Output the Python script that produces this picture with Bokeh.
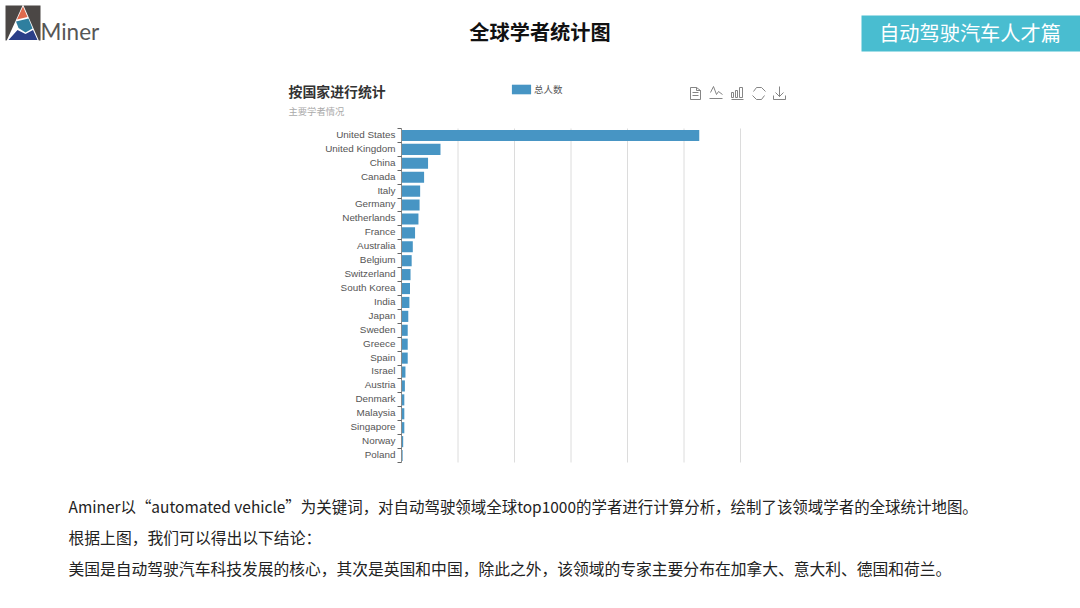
from bokeh.plotting import figure
from bokeh.embed import file_html
from bokeh.resources import INLINE
from bokeh.models import FixedTicker, Range1d, LinearAxis, Legend, LegendItem
from bokeh.core.properties import value

countries = ["United States", "United Kingdom", "China", "Canada", "Italy", "Germany", "Netherlands",
             "France", "Australia", "Belgium", "Switzerland", "South Korea", "India", "Japan", "Sweden",
             "Greece", "Spain", "Israel", "Austria", "Denmark", "Malaysia", "Singapore", "Norway", "Poland"]
totals = [527, 69, 47, 40, 33, 32, 30, 24, 20, 18, 16, 15, 14, 12, 11, 11, 11, 7, 6, 5, 5, 5, 3, 2]
grid_values = [100, 200, 300, 400, 500, 600]
series_name = "总人数"

page_title = "全球学者统计图"
badge_text = "自动驾驶汽车人才篇"
chart_title = "按国家进行统计"
chart_subtitle = "主要学者情况"
body_lines = ["Aminer以“automated vehicle”为关键词，对自动驾驶领域全球top1000的学者进行计算分析，绘制了该领域学者的全球统计地图。",
              "根据上图，我们可以得出以下结论：",
              "美国是自动驾驶汽车科技发展的核心，其次是英国和中国，除此之外，该领域的专家主要分布在加拿大、意大利、德国和荷兰。"]

CJK = "Noto Sans CJK SC"
LAT = "Liberation Sans"
W, H = 1080, 608
n = len(countries)
rows = [n - i - 0.5 for i in range(n)]
label_rows = [r + 0.08 for r in rows]

# plot area of the bar chart inside the page, in page pixels
LEFT, BOTTOM = 401, 462
PER_VALUE, PER_ROW = 0.565, 13.917

p = figure(width=W, height=H, output_backend="svg", toolbar_location=None,
           x_range=Range1d(-LEFT / PER_VALUE, (W - LEFT) / PER_VALUE),
           y_range=Range1d(-(H - BOTTOM) / PER_ROW, BOTTOM / PER_ROW),
           min_border=0, min_border_left=0, min_border_right=0, min_border_top=0, min_border_bottom=0,
           outline_line_color=None)
p.extra_x_ranges = {"page": Range1d(0, W)}
p.extra_y_ranges = {"page": Range1d(H, 0)}
p.grid.visible = False
p.xaxis.visible = False

PAGE = dict(x_range_name="page", y_range_name="page")


def txt(x, y, text, size, color, font=CJK, style="normal", align="left"):
    p.text(x=[x], y=[y], text=[text], text_font=value(font), text_font_size=f"{size}px",
           text_color=color, text_font_style=style, text_align=align, text_baseline="middle", **PAGE)


def poly(points, fill):
    p.patch([a for a, _ in points], [b for _, b in points], fill_color=fill, line_color=None, **PAGE)


def path(points, color="#777777", width=0.9):
    p.line([a for a, _ in points], [b for _, b in points], line_color=color, line_width=width, **PAGE)


# ---------- header ----------
txt(539.5, 31, page_title, 20.2, "#111111", style="bold", align="center")
poly([(861, 15), (1080, 15), (1080, 51), (861, 51)], "#49bdd0")
txt(969.5, 32, badge_text, 20.2, "#ffffff", align="center")

poly([(5, 5), (40, 5), (40, 40), (5, 40)], "#4b4745")
poly([(6, 40.5), (22.5, 4), (38.5, 40.5)], "#ffffff")
poly([(22.5, 6), (16.5, 19), (27, 16.5)], "#df6a4d")
poly([(15.5, 21), (28, 18), (32, 28), (25, 32), (18, 27.5)], "#2f7f9f")
poly([(8, 39.5), (17, 29.5), (25, 33.5), (32.5, 29.5), (37, 39.5)], "#2b3f88")
txt(40, 31, "Miner", 22.5, "#565656", font="Lato")

txt(288, 90, chart_title, 13.9, "#333333", style="bold")
txt(288, 110, chart_subtitle, 9.3, "#aaaaaa")

for icon in [
    [(690, 87), (696, 87), (700, 90), (700, 99), (690, 99), (690, 87)],
    [(696, 87), (696, 90), (700, 90)],
    [(692, 92), (698, 92)],
    [(692, 95), (698, 95)],
    [(710, 92), (713, 86), (716, 94), (718, 91), (722, 94)],
    [(709, 98), (722, 98)],
    [(731, 99), (743, 99)],
    [(731, 97), (731, 92), (733, 92), (733, 97), (731, 97)],
    [(735, 97), (735, 90), (737, 90), (737, 97), (735, 97)],
    [(739, 97), (739, 87), (742, 87), (742, 97), (739, 97)],
    [(753, 91), (756, 87), (761, 87), (765, 91)],
    [(764, 95), (761, 99), (756, 99), (752, 95)],
    [(779, 86), (779, 96)],
    [(775, 92), (779, 96), (783, 92)],
    [(773, 95), (773, 99), (785, 99), (785, 95)],
]:
    path(icon)

# ---------- bar chart ----------
p.segment(x0=grid_values, y0=[0] * len(grid_values), x1=grid_values, y1=[n] * len(grid_values),
          line_color="#dcdcdc", line_width=1)
bars = p.hbar(y=rows, right=totals, left=0, height=0.8, color="#4795c4", line_color=None)

edge = p.yaxis[0]
edge.fixed_location = 0
edge.bounds = (0, n)
edge.ticker = FixedTicker(ticks=list(range(n + 1)))
edge.axis_line_color = "#8a8a8a"
edge.major_tick_line_color = "#666666"
edge.major_tick_in = 0
edge.major_tick_out = 4
edge.minor_tick_line_color = None
edge.major_label_text_font_size = "1px"
edge.major_label_text_color = None
edge.major_label_overrides = {i: "" for i in range(n + 1)}

cat = LinearAxis(ticker=FixedTicker(ticks=label_rows), fixed_location=0)
cat.major_label_overrides = dict(zip(label_rows, countries))
cat.axis_line_color = None
cat.major_tick_line_color = None
cat.major_tick_in = 0
cat.major_tick_out = 0
cat.minor_tick_line_color = None
cat.major_label_text_font = LAT
cat.major_label_text_font_size = "9.9px"
cat.major_label_text_color = "#555555"
cat.major_label_standoff = 6
p.add_layout(cat, "left")

legend = Legend(items=[LegendItem(label=series_name, renderers=[bars])], location=(509, 512),
                orientation="horizontal", background_fill_alpha=0, border_line_color=None,
                glyph_width=24, glyph_height=12, padding=0, margin=0, label_standoff=1,
                label_height=12, label_text_font=CJK, label_text_font_size="9.5px",
                label_text_color="#555555")
p.add_layout(legend, "center")

# ---------- body text ----------
for line, y, size in zip(body_lines, [505.5, 536.5, 567.5], [15.46, 15.8, 15.78]):
    txt(68, y, line, size, "#222222")

open("out.html", "w").write(file_html(p, INLINE))
